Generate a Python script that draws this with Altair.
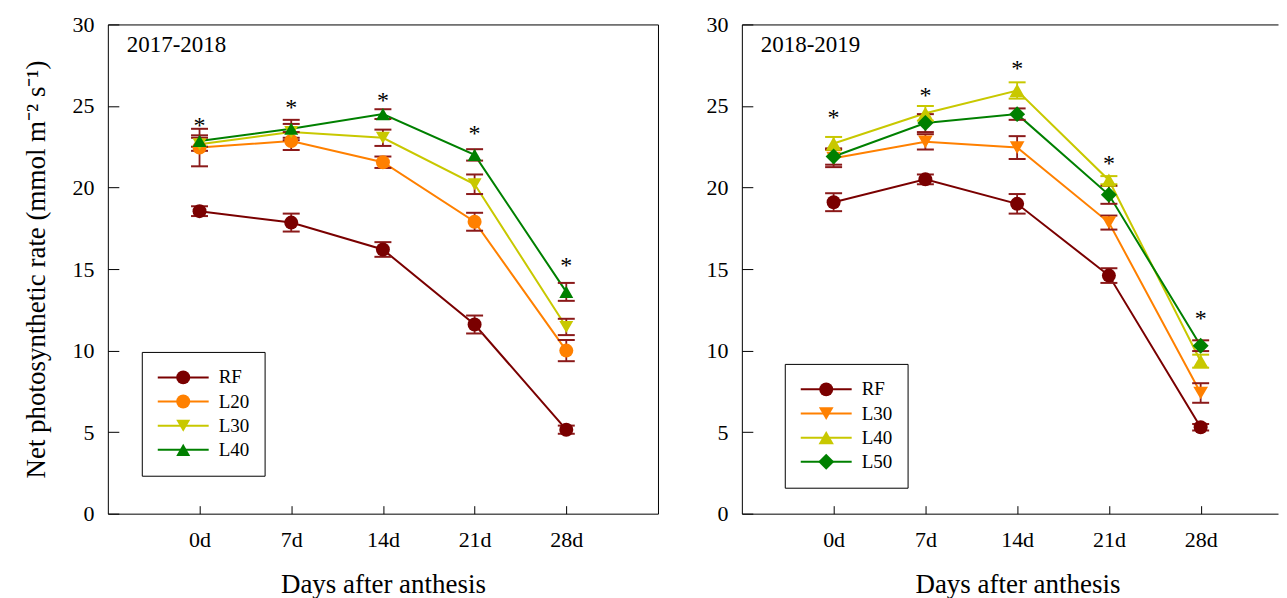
import altair as alt
import pandas as pd

# ---------------- data ----------------
days = [0, 7, 14, 21, 28]
day_labels = ["0d", "7d", "14d", "21d", "28d"]
y_ticks = [0, 5, 10, 15, 20, 25, 30]
y_title = "Net photosynthetic rate (mmol m\u207b\u00b2 s\u207b\u00b9)"
x_title = "Days after anthesis"

# panel 1: 2017-2018
season_a = "2017-2018"
series_a = ["RF", "L20", "L30", "L40"]
rf_a = [18.55, 17.85, 16.2, 11.6, 5.15]
rf_a_err = [0.3, 0.55, 0.45, 0.55, 0.25]
l20_a = [22.45, 22.85, 21.55, 17.9, 10.0]
l20_a_err = [1.15, 0.55, 0.35, 0.55, 0.65]
l30_a = [22.65, 23.4, 23.05, 20.2, 11.45]
l30_a_err = [0.4, 0.5, 0.5, 0.6, 0.5]
l40_a = [22.85, 23.6, 24.5, 22.0, 13.6]
l40_a_err = [0.35, 0.55, 0.3, 0.35, 0.55]
star_a = [24.0, 25.15, 25.55, 23.55, 15.45]

# panel 2: 2018-2019
season_b = "2018-2019"
series_b = ["RF", "L30", "L40", "L50"]
rf_b = [19.1, 20.5, 19.0, 14.6, 5.3]
rf_b_err = [0.55, 0.3, 0.6, 0.45, 0.2]
l30_b = [21.8, 22.8, 22.45, 17.85, 7.4]
l30_b_err = [0.55, 0.47, 0.7, 0.43, 0.6]
l40_b = [22.7, 24.55, 25.95, 20.45, 9.35]
l40_b_err = [0.4, 0.45, 0.5, 0.25, 0.4]
l50_b = [21.9, 23.95, 24.5, 19.55, 10.3]
l50_b_err = [0.5, 0.55, 0.35, 0.55, 0.33]
star_b = [24.5, 25.85, 27.5, 21.7, 12.2]

# ---------------- style ----------------
SERIF = "Liberation Serif"
DARK_RED = "#7A0000"
ORANGE = "#FF8000"
YELLOW = "#C8C800"
GREEN = "#008000"
ERR_RED = "#8B1A1A"

colors_a = [DARK_RED, ORANGE, YELLOW, GREEN]
shapes_a = ["circle", "circle", "triangle-down", "triangle-up"]
sizes_a = [196, 196, 256, 256]
yellow_err_a = []

colors_b = [DARK_RED, ORANGE, YELLOW, GREEN]
shapes_b = ["circle", "triangle-down", "triangle-up", "diamond"]
sizes_b = [196, 256, 256, 324]
yellow_err_b = ["L40"]

H = 490


def panel(season, series, vals, errs, stars, colors, shapes, sizes, yellow_err,
          xmax, width, show_ytitle, legend_x, legend_y, boxed, title_x):
    rows = []
    for s, v, e in zip(series, vals, errs):
        for d, vv, ee in zip(days, v, e):
            rows.append({"day": d, "value": vv, "err": ee, "series": s})
    df = pd.DataFrame(rows)
    star_df = pd.DataFrame({"day": days, "star": stars})

    xs = alt.Scale(domain=[-7, xmax], nice=False, zero=False)
    ys = alt.Scale(domain=[0, 30], nice=False, zero=False)
    label_expr = ("[" + ",".join("'%s'" % l for l in day_labels) + "][indexof(["
                  + ",".join(str(d) for d in days) + "], datum.value)]")

    dom = dict(domain=not boxed, domainColor="black", domainWidth=1)
    x_lab = alt.Axis(orient="bottom", values=days, labelExpr=label_expr, ticks=False,
                     grid=False, labelPadding=16, title=x_title,
                     titlePadding=21, titleX=title_x, **dom)
    ykw = dict(orient="left", values=y_ticks, ticks=False, grid=False,
               labelPadding=14, **dom)
    if show_ytitle:
        y_lab = alt.Axis(title=y_title, titlePadding=21, **ykw)
    else:
        y_lab = alt.Axis(title=None, **ykw)
    x_tick = alt.Axis(orient="bottom", values=days, labels=False, domain=False, grid=False,
                      ticks=True, tickSize=8, offset=-8, title=None, tickColor="black",
                      tickWidth=1)
    y_tick = alt.Axis(orient="left", values=y_ticks, labels=False, domain=False, grid=False,
                      ticks=True, tickSize=11, offset=-11, title=None, tickColor="black",
                      tickWidth=1)
    x_top = alt.Axis(orient="top", labels=False, ticks=False, grid=False, domain=True,
                     domainColor="black", domainWidth=1, title=None)

    # two legends stacked on the same spot: coloured line glyphs + coloured markers
    common = dict(orient="none", legendX=legend_x, legendY=legend_y, title=None,
                  padding=15, clipHeight=21, rowPadding=3.2,
                  labelFont=SERIF, labelFontSize=19, labelColor="black")
    leg_line = alt.Legend(symbolType="stroke", symbolSize=2601, symbolStrokeWidth=2,
                          symbolOffset=0, labelOffset=9, labelOpacity=0,
                          values=series, **common)
    leg_mark = alt.Legend(symbolSize=240, symbolStrokeWidth=0, symbolOffset=17,
                          labelOffset=26, strokeColor="black", symbolOpacity=1,
                          **common)

    rev = list(reversed(series))
    stroke_scale = alt.Scale(domain=rev, range=list(reversed(colors)))
    color_scale = alt.Scale(domain=series, range=colors)

    lines = alt.Chart(df).mark_line(strokeWidth=2).encode(
        x=alt.X("day:Q", scale=xs, axis=x_lab),
        y=alt.Y("value:Q", scale=ys, axis=y_lab),
        stroke=alt.Stroke("series:N", scale=stroke_scale, legend=leg_line),
        detail="series:N",
        order="day:Q",
    )

    test = "indexof([" + ",".join("'%s'" % s for s in yellow_err) + "], datum.series) >= 0"
    err_color = alt.condition(test, alt.value(YELLOW), alt.value(ERR_RED))
    eb = alt.Chart(df).transform_calculate(
        lo="datum.value - datum.err", hi="datum.value + datum.err")
    rule = eb.mark_rule(strokeWidth=1.8).encode(
        x=alt.X("day:Q", scale=xs, axis=x_tick),
        y=alt.Y("lo:Q", scale=ys, axis=y_tick),
        y2="hi:Q",
        color=err_color,
    )
    cap_lo = eb.mark_tick(orient="horizontal", size=17, thickness=2, opacity=1).encode(
        x=alt.X("day:Q", scale=xs, axis=None if boxed else x_top),
        y=alt.Y("lo:Q", scale=ys, axis=None),
        color=err_color,
    )
    cap_hi = eb.mark_tick(orient="horizontal", size=17, thickness=2, opacity=1).encode(
        x=alt.X("day:Q", scale=xs, axis=None),
        y=alt.Y("hi:Q", scale=ys, axis=None),
        color=err_color,
    )

    pts = alt.Chart(df).mark_point(filled=True, opacity=1).encode(
        x=alt.X("day:Q", scale=xs, axis=None),
        y=alt.Y("value:Q", scale=ys, axis=None),
        color=alt.Color("series:N", scale=color_scale, legend=leg_mark),
        shape=alt.Shape("series:N", scale=alt.Scale(domain=series, range=shapes),
                        legend=leg_mark),
        size=alt.Size("series:N", scale=alt.Scale(domain=series, range=sizes), legend=None),
    )

    st = alt.Chart(star_df).mark_text(
        text="*", fontSize=24, font=SERIF, color="black", fill="black",
        baseline="alphabetic", dy=11
    ).encode(
        x=alt.X("day:Q", scale=xs, axis=None),
        y=alt.Y("star:Q", scale=ys, axis=None),
    )

    lab = alt.Chart(pd.DataFrame({"t": [season]})).mark_text(
        align="left", baseline="middle", fontSize=23, font=SERIF, color="black"
    ).encode(x=alt.value(19), y=alt.value(21), text="t:N")

    props = dict(width=width, height=H)
    if not boxed:
        props["view"] = alt.ViewBackground(stroke="transparent")
    return alt.layer(lines, rule, cap_lo, cap_hi, pts, st, lab).resolve_axis(
        x="independent", y="independent").properties(**props)


left = panel(season_a, series_a, [rf_a, l20_a, l30_a, l40_a],
             [rf_a_err, l20_a_err, l30_a_err, l40_a_err], star_a,
             colors_a, shapes_a, sizes_a, yellow_err_a,
             35, 551, True, 34, 328, True, 275.5)
right = panel(season_b, series_b, [rf_b, l30_b, l40_b, l50_b],
              [rf_b_err, l30_b_err, l40_b_err, l50_b_err], star_b,
              colors_b, shapes_b, sizes_b, yellow_err_b,
              33.9, 537, False, 43, 340, False, 276)

chart = alt.hconcat(left, right, spacing=46).resolve_scale(
    x="independent", y="independent", color="independent",
    stroke="independent", shape="independent", size="independent"
).properties(
    padding={"left": 14, "top": 4, "right": 0, "bottom": 0}
).configure(font=SERIF).configure_view(
    stroke="black", strokeWidth=1
).configure_axis(
    labelFont=SERIF, labelFontSize=22, labelColor="black",
    titleFont=SERIF, titleFontSize=27, titleFontWeight="normal", titleColor="black",
    tickColor="black",
)

chart.save("out.html", embed_options={"renderer": "svg", "actions": False})
